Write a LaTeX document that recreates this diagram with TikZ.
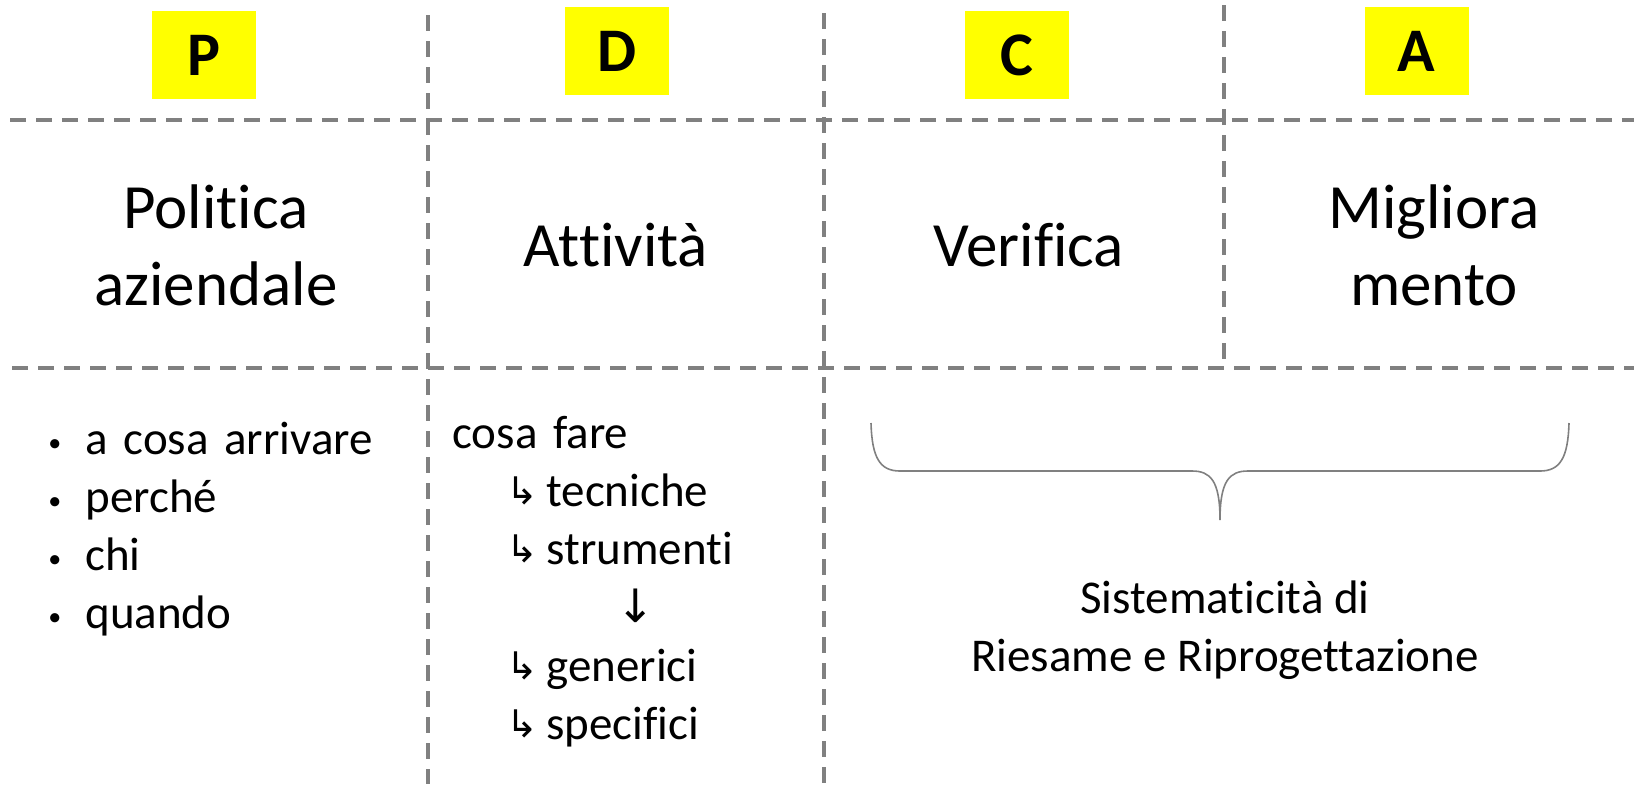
\documentclass[tikz,border=0pt]{standalone}
\usepackage{fontspec}
\setmainfont{Carlito}[Ligatures=NoCommon]
\newfontfamily\symfont{DejaVu Sans}
\usetikzlibrary{positioning}

\definecolor{gridgray}{RGB}{128,128,128}
\definecolor{tagyellow}{RGB}{255,255,0}

\begin{document}
\begin{tikzpicture}[x=0.5pt,y=-0.5pt,node distance=5.75pt,
      grid/.style={draw=gridgray,line width=1.8pt,dash pattern=on 8pt off 5pt},
      tag/.style={fill=tagyellow,minimum width=52pt,minimum height=44pt,inner sep=0pt,
        font=\fontsize{31}{37}\selectfont\bfseries},
      head/.style={align=center,font=\fontsize{31.5}{38.5}\selectfont},
      entry/.style={inner sep=0pt,text height=17pt,text depth=6pt,text width=150pt,align=left,
        font=\fontsize{23.5}{28.75}\selectfont},
      brace/.style={draw=gridgray,line width=0.8pt}]
      \useasboundingbox (0,0) rectangle (1634,784);
      \newcommand{\bul}{\llap{\raisebox{1.5pt}{\fontsize{13}{13}\selectfont •}\hspace{12pt}}}
      \newcommand{\sub}{\llap{\raisebox{1pt}{\symfont\fontsize{19}{19}\selectfont ↳}\hspace{4pt}}}

      \draw[grid] (10,120) -- (1634,120);
      \draw[grid] (12,368) -- (1634,368);
      \draw[grid] (428,15) -- (428,784);
      \draw[grid] (824,13) -- (824,784);
      \draw[grid] (1224,5) -- (1224,368);

      \node[tag] (tagp) at (204,55) {P};
      \node[tag] (tagd) at (617,51) {D};
      \node[tag] (tagc) at (1016.5,55) {C};
      \node[tag] (taga) at (1416.5,51) {A};

      \node[head] (plan)  at (216,245)  {Politica\\aziendale};
      \node[head] (do)    at (616,245.5) {Attività};
      \node[head] (check) at (1029,245.5) {Verifica};
      \node[head] (act)   at (1434,245) {Migliora\\mento};

      \node[entry,anchor=base west] (p1) at (85,454) {\bul a cosa arrivare};
      \node[entry,below=of p1] (p2) {\bul perché};
      \node[entry,below=of p2] (p3) {\bul chi};
      \node[entry,below=of p3] (p4) {\bul quando};

      \node[entry,anchor=base west] (d1) at (452,448) {cosa fare};
      \node[entry,below=of d1,xshift=47pt] (d2) {\sub tecniche};
      \node[entry,below=of d2] (d3) {\sub strumenti};
      \node[entry,below=of d3] (d4) {\hspace*{35pt}{\symfont\fontsize{23}{23}\selectfont ↓}};
      \node[entry,below=of d4] (d5) {\sub generici};
      \node[entry,below=of d5] (d6) {\sub specifici};

      \draw[brace] (871,423) .. controls (872,458) and (880,471) .. (900,471) -- (1192,471)
        .. controls (1210,471) and (1220,480) .. (1220,520)
        .. controls (1220,480) and (1230,471) .. (1248,471) -- (1540,471)
        .. controls (1560,471) and (1568,458) .. (1569,423);
      \node[align=center,font=\fontsize{23.5}{29}\selectfont] (review) at (1225,630)
        {Sistematicità di\\Riesame e Riprogettazione};
    \end{tikzpicture}
\end{document}
